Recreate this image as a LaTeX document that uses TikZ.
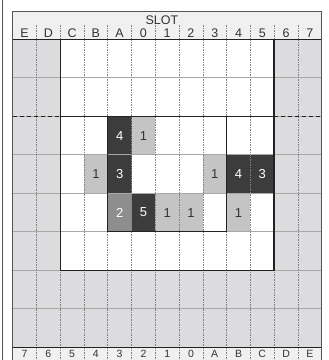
\documentclass[tikz,border=0pt]{standalone}
\usepackage{fontspec}
\setmainfont{Liberation Sans}
\definecolor{hdr}{RGB}{240,240,240}
\definecolor{bgg}{RGB}{220,220,222}
\definecolor{lt}{RGB}{196,196,196}
\definecolor{md}{RGB}{142,142,142}
\definecolor{dk}{RGB}{60,60,60}
\definecolor{hg}{RGB}{168,168,168}
\definecolor{vg}{RGB}{130,130,130}
\definecolor{thk}{RGB}{34,34,34}
\definecolor{txt}{RGB}{51,51,51}
\definecolor{frm}{RGB}{85,85,85}
\begin{document}
\begin{tikzpicture}[x=23.77pt,y=-38.5pt,
  cellnode/.style={minimum width=23.77pt,minimum height=38.5pt,inner sep=0pt,font=\fontsize{13}{13}\selectfont},
  darkcell/.style={cellnode,fill=dk,text=white},
  medcell/.style={cellnode,fill=md,text=white},
  lightcell/.style={cellnode,fill=lt,text=txt},
  hgrid/.style={hg,line width=0.6pt},
  vgrid/.style={vg,line width=0.6pt,dash pattern=on 1.5pt off 1pt},
  thickline/.style={thk,line width=1.4pt},
  dashline/.style={thk,line width=1.4pt,dash pattern=on 4pt off 3pt},
  hdrlabel/.style={inner sep=0pt,text=txt,font=\fontsize{12.5}{12.5}\selectfont},
  botlabel/.style={inner sep=0pt,text=txt,font=\fontsize{10.5}{10.5}\selectfont}]
\useasboundingbox (-0.534,-1.0208) rectangle (13.307,8.330);
% stray left line of neighbouring figure
\draw[frm,line width=0.8pt] (-0.45,-1.0208) -- (-0.45,8.330);
% fills
\fill[hdr] (0,-0.735) rectangle (13,0);
\fill[white] (0,0) rectangle (13,8);
\fill[bgg] (0,0) rectangle (2,8);
\fill[bgg] (11,0) rectangle (13,8);
\fill[bgg] (0,6) rectangle (13,8);
\fill[hdr] (0,8) rectangle (13,8.45);
% cells
\node[darkcell]  (r2c4) at (4.5,2.5) {4};
\node[lightcell] (r2c5) at (5.5,2.5) {1};
\node[lightcell] (r3c3) at (3.5,3.5) {1};
\node[darkcell]  (r3c4) at (4.5,3.5) {3};
\node[lightcell] (r3c8) at (8.5,3.5) {1};
\node[darkcell]  (r3c9) at (9.5,3.5) {4};
\node[darkcell]  (r3c10) at (10.5,3.5) {3};
\node[medcell]   (r4c4) at (4.5,4.5) {2};
\node[darkcell]  (r4c5) at (5.5,4.5) {5};
\node[lightcell] (r4c6) at (6.5,4.5) {1};
\node[lightcell] (r4c7) at (7.5,4.5) {1};
\node[lightcell] (r4c9) at (9.5,4.5) {1};
% grid
\foreach \r in {1,...,7} \draw[hgrid] (0,\r) -- (13,\r);
\foreach \c in {1,...,12} {
  \draw[vgrid] (\c,0) -- (\c,8);
  \draw[vgrid] (\c,-0.371) -- (\c,0);
  \draw[vgrid] (\c,8) -- (\c,8.45);
}
% thick lines
\draw[thickline] (0,0) -- (13,0);
\draw[thickline] (0,8) -- (13,8);
\draw[thickline] (2,0) -- (2,6) -- (11,6) -- (11,0);
\draw[thickline] (2,2) -- (11,2);
\draw[dashline] (0,2) -- (2,2);
\draw[dashline] (11,2) -- (13,2);
\draw[thickline] (4,2) rectangle (9,5);
% frame
\draw[frm,line width=1pt] (0,8.45) -- (0,-0.735) -- (13,-0.735) -- (13,8.45);
% labels
\node[hdrlabel] (slot) at (6.28,-0.50) {SLOT};
\foreach \t [count=\i from 0] in {E,D,C,B,A,0,1,2,3,4,5,6,7}
  \node[hdrlabel] (h\i) at (\i+0.5,-0.16) {\t};
\foreach \t [count=\i from 0] in {7,6,5,4,3,2,1,0,A,B,C,D,E}
  \node[botlabel] (b\i) at (\i+0.5,8.17) {\t};
\end{tikzpicture}
\end{document}
